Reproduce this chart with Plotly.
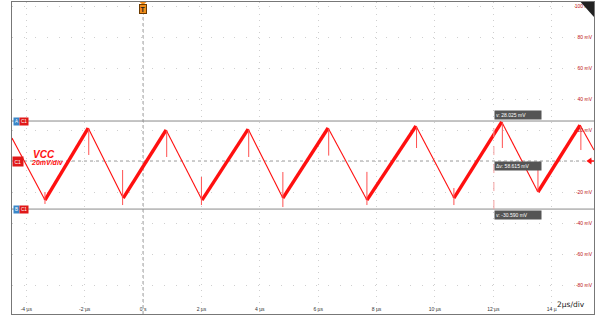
import plotly.graph_objects as go

# ---- data (time in µs, voltage in mV) ----
t_vert = [-4.49, -3.36, -1.88, -0.68, 0.79, 2.02, 3.60, 4.79, 6.34, 7.67, 9.35, 10.65, 12.29, 13.53, 14.97, 15.45]
v_vert = [14.8, -25.2, 21.3, -23.9, 20.0, -25.2, 20.6, -23.9, 21.3, -25.2, 22.6, -23.9, 25.2, -20.0, 23.2, 7.1]

# spikes: time, start value, tip value
spike_t = [-1.86, 0.81, 3.62, 6.36, 9.37, 12.31, 15.0,
           -3.36, -3.36, -0.70, -0.70, 2.00, 2.00, 4.79, 4.79, 7.67, 7.67, 10.65, 10.65, 13.53]
spike_from = [21.0, 19.8, 20.4, 21.0, 22.3, 24.9, 22.5,
              -25.2, -25.2, -23.9, -23.9, -25.2, -25.2, -23.9, -23.9, -25.2, -25.2, -23.9, -23.9, -20.0]
spike_to = [3.9, 2.6, 2.6, 3.5, 8.4, 8.4, 7.1,
            -20.0, -27.7, -5.8, -28.4, -10.3, -28.4, -7.1, -29.7, -7.0, -28.4, -17.4, -28.4, -4.5]

x_ticks = [-4, -2, 0, 2, 4, 6, 8, 10, 12, 14]
x_labels = ["-4 µs", "-2 µs", "0 s", "2 µs", "4 µs", "6 µs", "8 µs", "10 µs", "12 µs", "14 µ"]
y_ticks = [-80, -60, -40, -20, 0, 20, 40, 60, 80, 100]
y_labels = ["-80 mV", "-60 mV", "-40 mV", "-20 mV", "0", "20 mV", "40 mV", "60 mV", "80 mV", "100 mV"]

cursor_a = 25.8
cursor_b = -31.0
cursor_t = 12.02
cursor_texts = ["v: 28.025 mV", "Δv: 58.615 mV", "v: -30.590 mV"]

RED = "#ff1010"
FONT = "Liberation Sans"

fig = go.Figure()

# rising (thick, noisy) and falling (thin) segments
rx, ry, fx, fy = [], [], [], []
for i in range(len(t_vert) - 1):
    if v_vert[i + 1] > v_vert[i]:
        rx += [t_vert[i], t_vert[i + 1], None]
        ry += [v_vert[i], v_vert[i + 1], None]
    else:
        fx += [t_vert[i], t_vert[i + 1], None]
        fy += [v_vert[i], v_vert[i + 1], None]

fig.add_trace(go.Scatter(x=fx, y=fy, mode="lines", line=dict(color=RED, width=1.1),
                         hoverinfo="skip", showlegend=False))
fig.add_trace(go.Scatter(x=rx, y=ry, mode="lines", line=dict(color=RED, width=3.4),
                         hoverinfo="skip", showlegend=False))
sx, sy = [], []
for t, a, b in zip(spike_t, spike_from, spike_to):
    sx += [t, t, None]
    sy += [a, b, None]
fig.add_trace(go.Scatter(x=sx, y=sy, mode="lines", line=dict(color="#ff5050", width=1),
                         hoverinfo="skip", showlegend=False))

shapes = []
# zero lines (dashed)
shapes.append(dict(type="line", xref="paper", yref="y", x0=0, x1=1, y0=0, y1=0,
                   line=dict(color="#999", width=1, dash="dot"), layer="below"))
shapes.append(dict(type="line", xref="x", yref="paper", x0=0, x1=0, y0=0, y1=1,
                   line=dict(color="#999", width=1, dash="dot"), layer="below"))
# cursor lines
for cv in (cursor_a, cursor_b):
    shapes.append(dict(type="line", xref="paper", yref="y", x0=0, x1=1, y0=cv, y1=cv,
                       line=dict(color="#8a8a8a", width=1), layer="below"))
shapes.append(dict(type="line", xref="x", yref="y", x0=cursor_t, x1=cursor_t, y0=cursor_b, y1=cursor_a,
                   line=dict(color="#f4a0a0", width=1, dash="dash")))
# top-right black corner
shapes.append(dict(type="path", xref="paper", yref="paper",
                   path="M 0.977 1 L 1 1 L 1 0.952 Z", fillcolor="#222", line=dict(width=0)))
# zero arrow at right
shapes.append(dict(type="path", xref="paper", yref="y",
                   path="M 0.987 0 L 0.9955 2.2 L 0.9955 -2.2 Z", fillcolor=RED, line=dict(width=0)))
shapes.append(dict(type="line", xref="paper", yref="y", x0=0.99, x1=1, y0=0, y1=0,
                   line=dict(color=RED, width=1.5)))
# trigger notch above the T marker
shapes.append(dict(type="path", xref="x", yref="paper",
                   path="M -0.12 1 L 0.12 1 L 0 0.99 Z", fillcolor="#f08c1a", line=dict(width=0)))

annotations = []
# cursor readouts
annotations.append(dict(x=cursor_t, y=cursor_a, xref="x", yref="y", text=cursor_texts[0],
                        xanchor="left", yanchor="bottom", showarrow=False, bgcolor="#555",
                        font=dict(color="white", size=5, family=FONT), width=44, align="left",
                        borderpad=1, yshift=1))
annotations.append(dict(x=cursor_t, y=0, xref="x", yref="y", text=cursor_texts[1],
                        xanchor="left", yanchor="top", showarrow=False, bgcolor="#555",
                        font=dict(color="white", size=5, family=FONT), width=44, align="left",
                        borderpad=1))
annotations.append(dict(x=cursor_t, y=cursor_b, xref="x", yref="y", text=cursor_texts[2],
                        xanchor="left", yanchor="top", showarrow=False, bgcolor="#555",
                        font=dict(color="white", size=5, family=FONT), width=44, align="left",
                        borderpad=1, yshift=-1))
# channel labels
annotations.append(dict(x=0.055, y=4.5, xref="paper", yref="y", text="<b><i>VCC</i></b>",
                        xanchor="center", yanchor="middle",
                        showarrow=False, font=dict(color=RED, size=10, family=FONT)))
annotations.append(dict(x=0.061, y=-1.2, xref="paper", yref="y", text="<b><i>20mV/div</i></b>",
                        xanchor="center", yanchor="middle",
                        showarrow=False, font=dict(color=RED, size=7, family=FONT)))
# left markers
annotations.append(dict(x=0.0, y=0, xref="paper", yref="y", text="C1", xanchor="left",
                        showarrow=False, bgcolor="#e01818", font=dict(color="white", size=5, family=FONT),
                        borderpad=1.5))
for cv in (cursor_a, cursor_b):
    lab = "A" if cv > 0 else "B"
    annotations.append(dict(x=0.002, y=cv, xref="paper", yref="y", text=lab, xanchor="left",
                            showarrow=False, bgcolor="#3a86c8", font=dict(color="white", size=4.5, family=FONT),
                            borderpad=1))
    annotations.append(dict(x=0.012, y=cv, xref="paper", yref="y", text="C1", xanchor="left",
                            showarrow=False, bgcolor="#e01818", font=dict(color="white", size=4.5, family=FONT),
                            borderpad=1))
# trigger marker
annotations.append(dict(x=0, y=0.978, xref="x", yref="paper", text="<b>T</b>", showarrow=False,
                        xanchor="center", yanchor="middle",
                        bgcolor="#f08c1a", bordercolor="#6b3a00", borderwidth=1, borderpad=0.5,
                        font=dict(color="#222", size=7, family=FONT)))
# timebase
annotations.append(dict(x=0.9605, y=0.03, xref="paper", yref="paper", text="2µs/div", showarrow=False,
                        xanchor="center", yanchor="middle",
                        font=dict(color="#222", size=7.5, family="DejaVu Sans")))

fig.update_layout(
    width=598, height=318,
    margin=dict(l=12, r=4, t=2, b=4),
    paper_bgcolor="white", plot_bgcolor="white",
    shapes=shapes, annotations=annotations,
    showlegend=False,
    xaxis=dict(range=[-4.49, 15.45], tickvals=x_ticks, ticktext=x_labels,
               ticklabelposition="inside", ticks="",
               tickfont=dict(size=5, color="#333", family=FONT),
               showgrid=True, gridcolor="#cfcfcf", griddash="1px,5px", gridwidth=1,
               zeroline=False, showline=True, linecolor="#777", linewidth=1, mirror=True,
               fixedrange=True),
    yaxis=dict(range=[-98.7, 102.6], tickvals=y_ticks, ticktext=y_labels,
               side="right", ticklabelposition="inside", ticks="",
               tickfont=dict(size=5, color="#c01010", family=FONT),
               showgrid=True, gridcolor="#cfcfcf", griddash="1px,10.7px", gridwidth=1,
               zeroline=False, showline=True, linecolor="#777", linewidth=1, mirror=True,
               fixedrange=True),
)

fig.write_html("out.html", config={"displayModeBar": False},
               post_script="document.body.style.margin='0';document.body.style.overflow='hidden';")
